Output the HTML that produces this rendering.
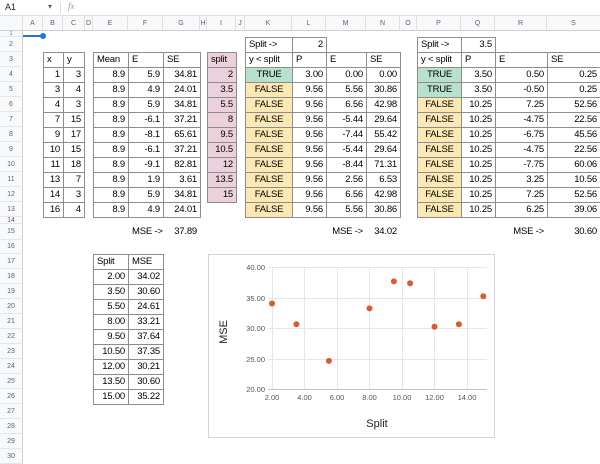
<!DOCTYPE html>
<html><head><meta charset="utf-8">
<style>
body{margin:0;width:600px;height:452px;overflow:hidden;position:relative;background:#fff;font-family:"Liberation Sans",Arial,sans-serif;}
.c{position:absolute;box-sizing:border-box;border:1px solid #8d8d8d;height:16px;line-height:14px;font-size:9.5px;letter-spacing:-0.2px;padding:0 3px;white-space:nowrap;overflow:hidden;color:#000;}
.n{border-color:transparent}
.r{text-align:right}
.m{text-align:center}
.t{background:#b7e1cd}
.f{background:#fce8b2}
.p{background:#ead1dc}
.B{left:43px;width:21px}.C{left:63px;width:22px}
.E{left:93px;width:36px}.F{left:128px;width:36px}.G{left:163px;width:38px}
.I{left:207px;width:30px}
.K{left:245px;width:48px}.L{left:292px;width:35px}.M{left:326px;width:41px}.N{left:366px;width:35px}
.P{left:417px;width:45px}.Q{left:461px;width:35px}.R{left:495px;width:53px}.S{left:547px;width:60px}
.y2{top:37px}.y3{top:52px}.y4{top:67px}.y5{top:82px}.y6{top:97px}.y7{top:112px}.y8{top:127px}.y9{top:142px}.y10{top:157px}.y11{top:172px}.y12{top:187px}.y13{top:202px}
.y15{top:224px}
.y17{top:254px}.y18{top:269px}.y19{top:284px}.y20{top:299px}.y21{top:314px}.y22{top:329px}.y23{top:344px}.y24{top:359px}.y25{top:374px}.y26{top:389px}
.ch{position:absolute;top:16px;height:15px;line-height:15px;font-size:7px;color:#5f6368;text-align:center;box-sizing:border-box;border-right:1px solid #e0e0e0;border-bottom:1px solid #d0d0d0;background:#f8f9fa}
.rh{position:absolute;left:0;width:23px;font-size:7px;color:#5f6368;text-align:center;box-sizing:border-box;border-right:1px solid #d0d0d0;border-bottom:1px solid #e6e6e6;background:#f8f9fa}
</style></head><body>

<!-- formula bar -->
<div style="position:absolute;left:0;top:0;width:600px;height:15px;border-bottom:1px solid #e0e0e0;background:#fff"></div>
<div style="position:absolute;left:5px;top:2px;font-size:9px;color:#202124">A1</div>
<div style="position:absolute;left:48px;top:2px;font-size:8px;color:#5f6368">▾</div>
<div style="position:absolute;left:60px;top:3px;width:1px;height:10px;background:#dadce0"></div>
<div style="position:absolute;left:68px;top:1px;font-size:9px;color:#9aa0a6;font-style:italic;font-family:'Liberation Serif',serif">fx</div>

<!-- column headers -->
<div class="ch" style="left:0;width:23px"></div>
<div class="ch" style="left:23px;width:20px">A</div>
<div class="ch" style="left:43px;width:20px">B</div>
<div class="ch" style="left:63px;width:22px">C</div>
<div class="ch" style="left:85px;width:8px">D</div>
<div class="ch" style="left:93px;width:35px">E</div>
<div class="ch" style="left:128px;width:35px">F</div>
<div class="ch" style="left:163px;width:37px">G</div>
<div class="ch" style="left:200px;width:7px">H</div>
<div class="ch" style="left:207px;width:29px">I</div>
<div class="ch" style="left:236px;width:9px">J</div>
<div class="ch" style="left:245px;width:47px">K</div>
<div class="ch" style="left:292px;width:34px">L</div>
<div class="ch" style="left:326px;width:40px">M</div>
<div class="ch" style="left:366px;width:34px">N</div>
<div class="ch" style="left:400px;width:17px">O</div>
<div class="ch" style="left:417px;width:44px">P</div>
<div class="ch" style="left:461px;width:34px">Q</div>
<div class="ch" style="left:495px;width:52px">R</div>
<div class="ch" style="left:547px;width:54px">S</div>

<!-- row headers -->
<div class="rh" style="top:31px;height:6px;line-height:6px;font-size:5px">1</div>
<div class="rh" style="top:37px;height:15px;line-height:15px">2</div>
<div class="rh" style="top:52px;height:15px;line-height:15px">3</div>
<div class="rh" style="top:67px;height:15px;line-height:15px">4</div>
<div class="rh" style="top:82px;height:15px;line-height:15px">5</div>
<div class="rh" style="top:97px;height:15px;line-height:15px">6</div>
<div class="rh" style="top:112px;height:15px;line-height:15px">7</div>
<div class="rh" style="top:127px;height:15px;line-height:15px">8</div>
<div class="rh" style="top:142px;height:15px;line-height:15px">9</div>
<div class="rh" style="top:157px;height:15px;line-height:15px">10</div>
<div class="rh" style="top:172px;height:15px;line-height:15px">11</div>
<div class="rh" style="top:187px;height:15px;line-height:15px">12</div>
<div class="rh" style="top:202px;height:15px;line-height:15px">13</div>
<div class="rh" style="top:217px;height:7px;line-height:7px">14</div>
<div class="rh" style="top:224px;height:16px;line-height:16px">15</div>
<div class="rh" style="top:240px;height:14px;line-height:14px">16</div>
<div class="rh" style="top:254px;height:15px;line-height:15px">17</div>
<div class="rh" style="top:269px;height:15px;line-height:15px">18</div>
<div class="rh" style="top:284px;height:15px;line-height:15px">19</div>
<div class="rh" style="top:299px;height:15px;line-height:15px">20</div>
<div class="rh" style="top:314px;height:15px;line-height:15px">21</div>
<div class="rh" style="top:329px;height:15px;line-height:15px">22</div>
<div class="rh" style="top:344px;height:15px;line-height:15px">23</div>
<div class="rh" style="top:359px;height:15px;line-height:15px">24</div>
<div class="rh" style="top:374px;height:15px;line-height:15px">25</div>
<div class="rh" style="top:389px;height:15px;line-height:15px">26</div>
<div class="rh" style="top:404px;height:15px;line-height:15px">27</div>
<div class="rh" style="top:419px;height:15px;line-height:15px">28</div>
<div class="rh" style="top:434px;height:15px;line-height:15px">29</div>
<div class="rh" style="top:449px;height:15px;line-height:15px">30</div>

<!-- selection -->
<div style="position:absolute;left:23px;top:35px;width:20px;height:2px;background:#1a73e8"></div>
<div style="position:absolute;left:40px;top:33px;width:6px;height:6px;border-radius:50%;background:#1a73e8"></div>

<!-- x y table -->
<div class="c B y3">x</div><div class="c C y3">y</div>
<div class="c B y4 r">1</div><div class="c C y4 r">3</div>
<div class="c B y5 r">3</div><div class="c C y5 r">4</div>
<div class="c B y6 r">4</div><div class="c C y6 r">3</div>
<div class="c B y7 r">7</div><div class="c C y7 r">15</div>
<div class="c B y8 r">9</div><div class="c C y8 r">17</div>
<div class="c B y9 r">10</div><div class="c C y9 r">15</div>
<div class="c B y10 r">11</div><div class="c C y10 r">18</div>
<div class="c B y11 r">13</div><div class="c C y11 r">7</div>
<div class="c B y12 r">14</div><div class="c C y12 r">3</div>
<div class="c B y13 r">16</div><div class="c C y13 r">4</div>

<!-- Mean E SE -->
<div class="c E y3">Mean</div><div class="c F y3">E</div><div class="c G y3">SE</div>
<div class="c E y4 r">8.9</div><div class="c F y4 r">5.9</div><div class="c G y4 r">34.81</div>
<div class="c E y5 r">8.9</div><div class="c F y5 r">4.9</div><div class="c G y5 r">24.01</div>
<div class="c E y6 r">8.9</div><div class="c F y6 r">5.9</div><div class="c G y6 r">34.81</div>
<div class="c E y7 r">8.9</div><div class="c F y7 r">-6.1</div><div class="c G y7 r">37.21</div>
<div class="c E y8 r">8.9</div><div class="c F y8 r">-8.1</div><div class="c G y8 r">65.61</div>
<div class="c E y9 r">8.9</div><div class="c F y9 r">-6.1</div><div class="c G y9 r">37.21</div>
<div class="c E y10 r">8.9</div><div class="c F y10 r">-9.1</div><div class="c G y10 r">82.81</div>
<div class="c E y11 r">8.9</div><div class="c F y11 r">1.9</div><div class="c G y11 r">3.61</div>
<div class="c E y12 r">8.9</div><div class="c F y12 r">5.9</div><div class="c G y12 r">34.81</div>
<div class="c E y13 r">8.9</div><div class="c F y13 r">4.9</div><div class="c G y13 r">24.01</div>
<div class="c n F y15 r">MSE -&gt;</div><div class="c n G y15 r">37.89</div>

<!-- split column -->
<div class="c I y3 p">split</div>
<div class="c I y4 p r">2</div>
<div class="c I y5 p r">3.5</div>
<div class="c I y6 p r">5.5</div>
<div class="c I y7 p r">8</div>
<div class="c I y8 p r">9.5</div>
<div class="c I y9 p r">10.5</div>
<div class="c I y10 p r">12</div>
<div class="c I y11 p r">13.5</div>
<div class="c I y12 p r">15</div>

<!-- K-N table -->
<div class="c K y2">Split -&gt;</div><div class="c L y2 r">2</div>
<div class="c K y3">y &lt; split</div><div class="c L y3">P</div><div class="c M y3">E</div><div class="c N y3">SE</div>
<div class="c K y4 m t">TRUE</div><div class="c L y4 r">3.00</div><div class="c M y4 r">0.00</div><div class="c N y4 r">0.00</div>
<div class="c K y5 m f">FALSE</div><div class="c L y5 r">9.56</div><div class="c M y5 r">5.56</div><div class="c N y5 r">30.86</div>
<div class="c K y6 m f">FALSE</div><div class="c L y6 r">9.56</div><div class="c M y6 r">6.56</div><div class="c N y6 r">42.98</div>
<div class="c K y7 m f">FALSE</div><div class="c L y7 r">9.56</div><div class="c M y7 r">-5.44</div><div class="c N y7 r">29.64</div>
<div class="c K y8 m f">FALSE</div><div class="c L y8 r">9.56</div><div class="c M y8 r">-7.44</div><div class="c N y8 r">55.42</div>
<div class="c K y9 m f">FALSE</div><div class="c L y9 r">9.56</div><div class="c M y9 r">-5.44</div><div class="c N y9 r">29.64</div>
<div class="c K y10 m f">FALSE</div><div class="c L y10 r">9.56</div><div class="c M y10 r">-8.44</div><div class="c N y10 r">71.31</div>
<div class="c K y11 m f">FALSE</div><div class="c L y11 r">9.56</div><div class="c M y11 r">2.56</div><div class="c N y11 r">6.53</div>
<div class="c K y12 m f">FALSE</div><div class="c L y12 r">9.56</div><div class="c M y12 r">6.56</div><div class="c N y12 r">42.98</div>
<div class="c K y13 m f">FALSE</div><div class="c L y13 r">9.56</div><div class="c M y13 r">5.56</div><div class="c N y13 r">30.86</div>
<div class="c n M y15 r">MSE -&gt;</div><div class="c n N y15 r">34.02</div>

<!-- P-S table -->
<div class="c P y2">Split -&gt;</div><div class="c Q y2 r">3.5</div>
<div class="c P y3">y &lt; split</div><div class="c Q y3">P</div><div class="c R y3">E</div><div class="c S y3">SE</div>
<div class="c P y4 m t">TRUE</div><div class="c Q y4 r">3.50</div><div class="c R y4 r">0.50</div><div class="c S y4 r" style="padding-right:9px">0.25</div>
<div class="c P y5 m t">TRUE</div><div class="c Q y5 r">3.50</div><div class="c R y5 r">-0.50</div><div class="c S y5 r" style="padding-right:9px">0.25</div>
<div class="c P y6 m f">FALSE</div><div class="c Q y6 r">10.25</div><div class="c R y6 r">7.25</div><div class="c S y6 r" style="padding-right:9px">52.56</div>
<div class="c P y7 m f">FALSE</div><div class="c Q y7 r">10.25</div><div class="c R y7 r">-4.75</div><div class="c S y7 r" style="padding-right:9px">22.56</div>
<div class="c P y8 m f">FALSE</div><div class="c Q y8 r">10.25</div><div class="c R y8 r">-6.75</div><div class="c S y8 r" style="padding-right:9px">45.56</div>
<div class="c P y9 m f">FALSE</div><div class="c Q y9 r">10.25</div><div class="c R y9 r">-4.75</div><div class="c S y9 r" style="padding-right:9px">22.56</div>
<div class="c P y10 m f">FALSE</div><div class="c Q y10 r">10.25</div><div class="c R y10 r">-7.75</div><div class="c S y10 r" style="padding-right:9px">60.06</div>
<div class="c P y11 m f">FALSE</div><div class="c Q y11 r">10.25</div><div class="c R y11 r">3.25</div><div class="c S y11 r" style="padding-right:9px">10.56</div>
<div class="c P y12 m f">FALSE</div><div class="c Q y12 r">10.25</div><div class="c R y12 r">7.25</div><div class="c S y12 r" style="padding-right:9px">52.56</div>
<div class="c P y13 m f">FALSE</div><div class="c Q y13 r">10.25</div><div class="c R y13 r">6.25</div><div class="c S y13 r" style="padding-right:9px">39.06</div>
<div class="c n R y15 r">MSE -&gt;</div><div class="c n S y15 r" style="padding-right:9px">30.60</div>

<!-- Split/MSE table -->
<div class="c E y17">Split</div><div class="c F y17">MSE</div>
<div class="c E y18 r">2.00</div><div class="c F y18 r">34.02</div>
<div class="c E y19 r">3.50</div><div class="c F y19 r">30.60</div>
<div class="c E y20 r">5.50</div><div class="c F y20 r">24.61</div>
<div class="c E y21 r">8.00</div><div class="c F y21 r">33.21</div>
<div class="c E y22 r">9.50</div><div class="c F y22 r">37.64</div>
<div class="c E y23 r">10.50</div><div class="c F y23 r">37.35</div>
<div class="c E y24 r">12.00</div><div class="c F y24 r">30.21</div>
<div class="c E y25 r">13.50</div><div class="c F y25 r">30.60</div>
<div class="c E y26 r">15.00</div><div class="c F y26 r">35.22</div>

<!-- chart -->
<svg style="position:absolute;left:0;top:0" width="600" height="452" xmlns="http://www.w3.org/2000/svg">
  <rect x="208.5" y="254.5" width="286" height="183" fill="#fff" stroke="#d4d4d4"/>
  <g stroke="#e6e6e6" stroke-width="1">
    <line x1="268" y1="267.5" x2="487" y2="267.5"/>
    <line x1="268" y1="298.5" x2="487" y2="298.5"/>
    <line x1="268" y1="328.5" x2="487" y2="328.5"/>
    <line x1="268" y1="359.5" x2="487" y2="359.5"/>
    <line x1="272.5" y1="267" x2="272.5" y2="389"/>
    <line x1="304.5" y1="267" x2="304.5" y2="389"/>
    <line x1="337.5" y1="267" x2="337.5" y2="389"/>
    <line x1="369.5" y1="267" x2="369.5" y2="389"/>
    <line x1="402.5" y1="267" x2="402.5" y2="389"/>
    <line x1="434.5" y1="267" x2="434.5" y2="389"/>
    <line x1="467.5" y1="267" x2="467.5" y2="389"/>
  </g>
  <line x1="268" y1="389.5" x2="487" y2="389.5" stroke="#c4c4c4"/>
  <g font-family="Liberation Sans, Arial, sans-serif" font-size="7.5" fill="#555" text-anchor="end">
    <text x="265" y="270">40.00</text>
    <text x="265" y="301">35.00</text>
    <text x="265" y="331">30.00</text>
    <text x="265" y="362">25.00</text>
    <text x="265" y="392">20.00</text>
  </g>
  <g font-family="Liberation Sans, Arial, sans-serif" font-size="7.5" fill="#555" text-anchor="middle">
    <text x="272" y="400">2.00</text>
    <text x="304.5" y="400">4.00</text>
    <text x="337" y="400">6.00</text>
    <text x="369.5" y="400">8.00</text>
    <text x="402" y="400">10.00</text>
    <text x="434.5" y="400">12.00</text>
    <text x="467" y="400">14.00</text>
  </g>
  <text x="377" y="427" font-family="Liberation Sans, Arial, sans-serif" font-size="11" fill="#222" text-anchor="middle">Split</text>
  <text transform="translate(227,332) rotate(-90)" font-family="Liberation Sans, Arial, sans-serif" font-size="11" fill="#222" text-anchor="middle">MSE</text>
  <g fill="#d95b2f">
    <circle cx="272" cy="303.5" r="3"/>
    <circle cx="296.4" cy="324.3" r="3"/>
    <circle cx="328.9" cy="360.9" r="3"/>
    <circle cx="369.5" cy="308.4" r="3"/>
    <circle cx="393.9" cy="281.4" r="3"/>
    <circle cx="410.1" cy="283.2" r="3"/>
    <circle cx="434.5" cy="326.7" r="3"/>
    <circle cx="458.9" cy="324.3" r="3"/>
    <circle cx="483.3" cy="296.2" r="3"/>
  </g>
</svg>
</body></html>
